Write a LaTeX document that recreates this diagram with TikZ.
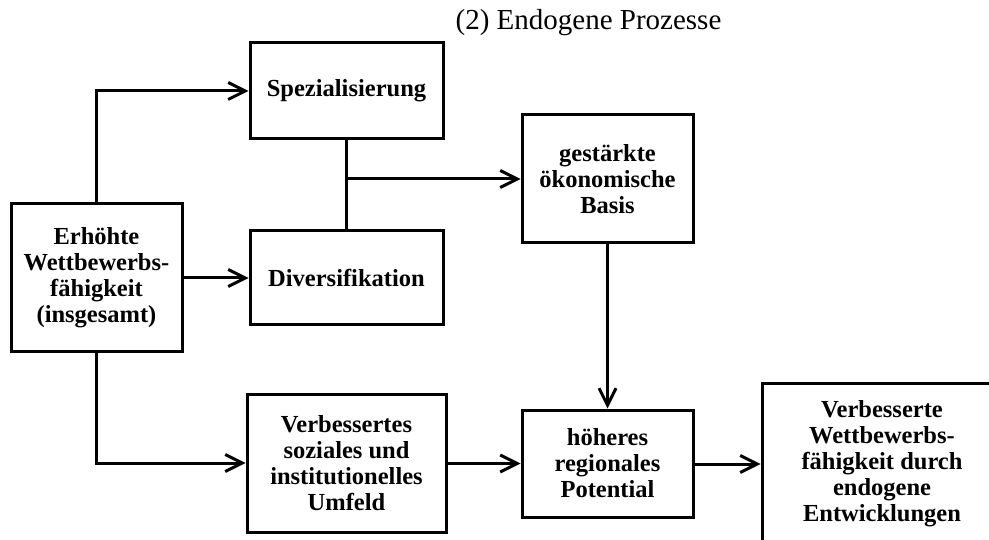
\documentclass[tikz,border=0pt]{standalone}
\usepackage{fontspec}
\setmainfont{Liberation Serif}
\usetikzlibrary{arrows.meta}

\begin{document}
\begin{tikzpicture}[x=1pt,y=-1pt,
  box/.style={draw, line width=3pt, align=center, inner sep=0pt,
    font=\fontsize{24.5}{26}\selectfont\bfseries},
  flow/.style={line width=3pt,
    -{Straight Barb[length=17pt,width=17pt,line width=3pt]}},
  link/.style={line width=3pt}]
  \clip (0,0) rectangle (989,540);

  % heading
  \node[anchor=base, font=\fontsize{29}{32}\selectfont] (title) at (588.5,30) {(2) Endogene Prozesse};

  % boxes
  \node[box, minimum width=171pt, minimum height=148pt] (erh) at (96.5,278)
    {Erhöhte\\Wettbewerbs-\\fähigkeit\\(insgesamt)};
  \node[box, minimum width=193pt, minimum height=96pt] (spez) at (346.5,91)
    {Spezialisierung};
  \node[box, minimum width=193pt, minimum height=94pt] (div) at (346.5,278)
    {Diversifikation};
  \node[box, minimum width=171pt, minimum height=128pt] (basis) at (607.5,179)
    {gestärkte\\ökonomische\\Basis};
  \node[box, minimum width=171pt, minimum height=107pt] (pot) at (607.5,463.5)
    {höheres\\regionales\\Potential};
  \node[box, minimum width=199pt, minimum height=138pt] (umf) at (346.5,463)
    {Verbessertes\\soziales und\\institutionelles\\Umfeld};
  \node[box, minimum width=240pt, minimum height=162pt] (end) at (882,464)
    {Verbesserte\\Wettbewerbs-\\fähigkeit durch\\endogene\\Entwicklungen};

  % connectors
  \coordinate (join) at (spez.south |- basis.west);
  \draw[flow] (erh.north) |- (spez.west);
  \draw[flow] (erh.east |- div.west) -- (div.west);
  \draw[flow] (erh.south) |- (umf.west);
  \draw[link] (spez.south) -- (div.north);
  \draw[flow] (join) -- (basis.west);
  \draw[flow] (basis.south) -- (pot.north);
  \draw[flow] (umf.east |- pot.west) -- (pot.west);
  \draw[flow] (pot.east |- end.west) -- (end.west);
\end{tikzpicture}
\end{document}
